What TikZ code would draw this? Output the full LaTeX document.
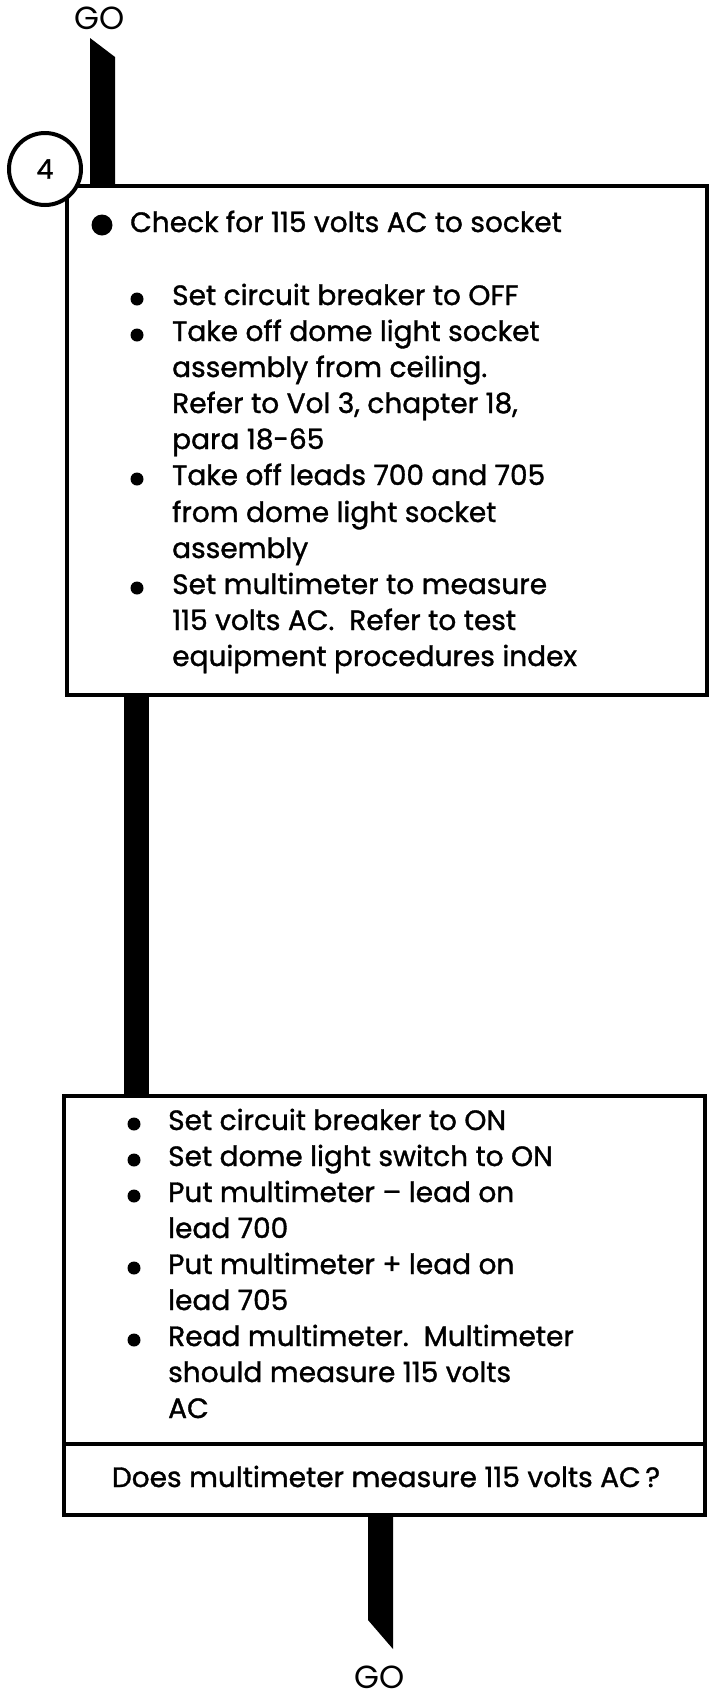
\documentclass[tikz,border=0pt]{standalone}
\usepackage{fontspec}
\setmainfont{Poppins}[FakeBold=1.2]
\newfontfamily\gofont{Poppins}
\begin{document}
\begin{tikzpicture}[x=1pt,y=-1pt,
  boxframe/.style={draw, line width=3.5pt, inner sep=0pt, anchor=north west},
  barfill/.style={fill=black},
  txt/.style={anchor=base west, inner sep=0pt, font=\fontsize{28}{36}\selectfont},
  qtxt/.style={anchor=base, inner sep=0pt, font=\fontsize{28}{36}\selectfont},
  golabel/.style={inner sep=0pt, font=\gofont\fontsize{32}{32}\selectfont},
  sbul/.style={circle, fill=black, inner sep=0pt, minimum size=13pt},
  bbul/.style={circle, fill=black, inner sep=0pt, minimum size=21pt},
  numcirc/.style={circle, draw, line width=4pt, fill=white, inner sep=0pt, minimum size=72pt, font=\fontsize{27}{27}\selectfont}
]
\useasboundingbox (0,0) rectangle (712,1698);
\fill[white] (0,0) rectangle (712,1698);

% top GO and bar
\node[golabel] (go1) at (100,18) {GO};
\coordinate (t1) at (90,38);
\coordinate (t2) at (115,57);
\node[boxframe, minimum width=640pt, minimum height=509pt] (b1) at (65,184) {};
\fill[barfill] (t1) -- (t2) -- (t2 |- b1.north) -- (t1 |- b1.north) -- cycle;

% number circle
\node[numcirc] (c4) at (45,169) {4};

% box 1 text
\node[bbul] (bb1) at (102,225) {};
\node[txt] (l0) at (130,232) {Check for 115 volts AC to socket};
\node[sbul] (s1) at (137,299) {};
\node[txt] (l1) at (172,305) {Set circuit breaker to OFF};
\node[sbul] (s2) at (137,335) {};
\node[txt] (l2) at (172,341) {Take off dome light socket};
\node[txt] (l3) at (172,377) {assembly from ceiling.};
\node[txt] (l4) at (172,413) {Refer to Vol 3, chapter 18,};
\node[txt] (l5) at (172,449) {para 18-65};
\node[sbul] (s3) at (137,479) {};
\node[txt] (l6) at (172,485) {Take off leads 700 and 705};
\node[txt] (l7) at (172,522) {from dome light socket};
\node[txt] (l8) at (172,558) {assembly};
\node[sbul] (s4) at (137,588) {};
\node[txt] (l9) at (172,594) {Set multimeter to measure};
\node[txt] (l10) at (172,630) {115 volts AC.\ \ Refer to test};
\node[txt] (l11) at (172,666) {equipment procedures index};

% box 2
\node[boxframe, minimum width=641pt, minimum height=348pt] (b2) at (62,1094) {};
\node[boxframe, minimum width=641pt, minimum height=71pt] (b3) at (62,1442) {};
\draw[line width=25pt] (136.5,0 |- b1.south) -- (136.5,0 |- b2.north);

\node[sbul] (r1) at (134,1124) {};
\node[txt] (m1) at (168,1130) {Set circuit breaker to ON};
\node[sbul] (r2) at (134,1160) {};
\node[txt] (m2) at (168,1166) {Set dome light switch to ON};
\node[sbul] (r3) at (134,1196) {};
\node[txt] (m3) at (168,1202) {Put multimeter -- lead on};
\node[txt] (m4) at (168,1238) {lead 700};
\node[sbul] (r4) at (134,1268) {};
\node[txt] (m5) at (168,1274) {Put multimeter + lead on};
\node[txt] (m6) at (168,1310) {lead 705};
\node[sbul] (r5) at (134,1340) {};
\node[txt] (m7) at (168,1346) {Read multimeter.\ \ Multimeter};
\node[txt] (m8) at (168,1382) {should measure 115 volts};
\node[txt] (m9) at (168,1418) {AC};
\node[qtxt] (q) at (386,1487) {Does multimeter measure 115 volts AC\,?};

% bottom bar and GO
\node[golabel] (go2) at (380,1677) {GO};
\coordinate (u1) at (368,1620);
\coordinate (u2) at (393,1649);
\fill[barfill] (u1 |- b3.south) -- (u2 |- b3.south) -- (u2) -- (u1) -- cycle;
\end{tikzpicture}
\end{document}
